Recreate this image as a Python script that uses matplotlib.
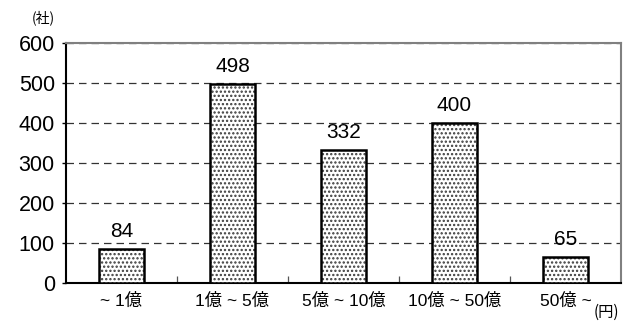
import matplotlib
matplotlib.use("Agg")
import matplotlib.pyplot as plt

plt.rcParams['font.family'] = ['Liberation Sans', 'Noto Sans CJK JP']
plt.rcParams['hatch.linewidth'] = 1.1

categories = ['~ 1億', '1億 ~ 5億', '5億 ~ 10億', '10億 ~ 50億', '50億 ~']
companies = [84, 498, 332, 400, 65]
y_ticks = [0, 100, 200, 300, 400, 500, 600]

fig = plt.figure(figsize=(6.34, 3.24), dpi=100)
ax = fig.add_axes([0.104, 0.1265, 0.8755, 0.7405])

x = list(range(len(categories)))
# dotted fill in gray, then a black outline on top
ax.bar(x, companies, width=0.41, color='white', edgecolor='#3a3a3a',
       linewidth=0, hatch='....', zorder=3)
ax.bar(x, companies, width=0.41, color='none', edgecolor='black',
       linewidth=1.8, zorder=4)

for xi, v in zip(x, companies):
    ax.annotate(str(v), (xi, v), xytext=(0, 6), textcoords='offset points',
                ha='center', va='bottom', fontsize=15, zorder=5)

ax.set_xlim(-0.5, len(categories) - 0.5)
ax.set_ylim(0, 600)
ax.set_yticks(y_ticks)
ax.set_yticklabels([str(t) for t in y_ticks], fontsize=15.5)
ax.yaxis.grid(True, linestyle=(0, (6, 4)), color='#333333', linewidth=0.9, zorder=0)

ax.set_xticks(x)
ax.set_xticklabels(categories, fontsize=12.5)
ax.tick_params(axis='x', length=0, pad=7)
ax.tick_params(axis='y', length=3, direction='out', width=1, pad=5)

# boundary ticks between categories on the baseline
ax.set_xticks([i + 0.5 for i in range(len(categories) - 1)], minor=True)
ax.tick_params(axis='x', which='minor', direction='in', length=5, width=0.9, color='#555555')

for side in ('left', 'bottom'):
    ax.spines[side].set_color('black')
    ax.spines[side].set_linewidth(1.5)
for side in ('top', 'right'):
    ax.spines[side].set_color('#808080')
    ax.spines[side].set_linewidth(1.5)

fig.text(0.068, 0.944, '(社)', fontsize=10, ha='center', va='center',
         family=['Noto Sans CJK JP'])
fig.text(0.957, 0.035, '(円)', fontsize=11, ha='center', va='center',
         family=['Noto Sans CJK JP'])

fig.savefig('out.png', dpi=100)
